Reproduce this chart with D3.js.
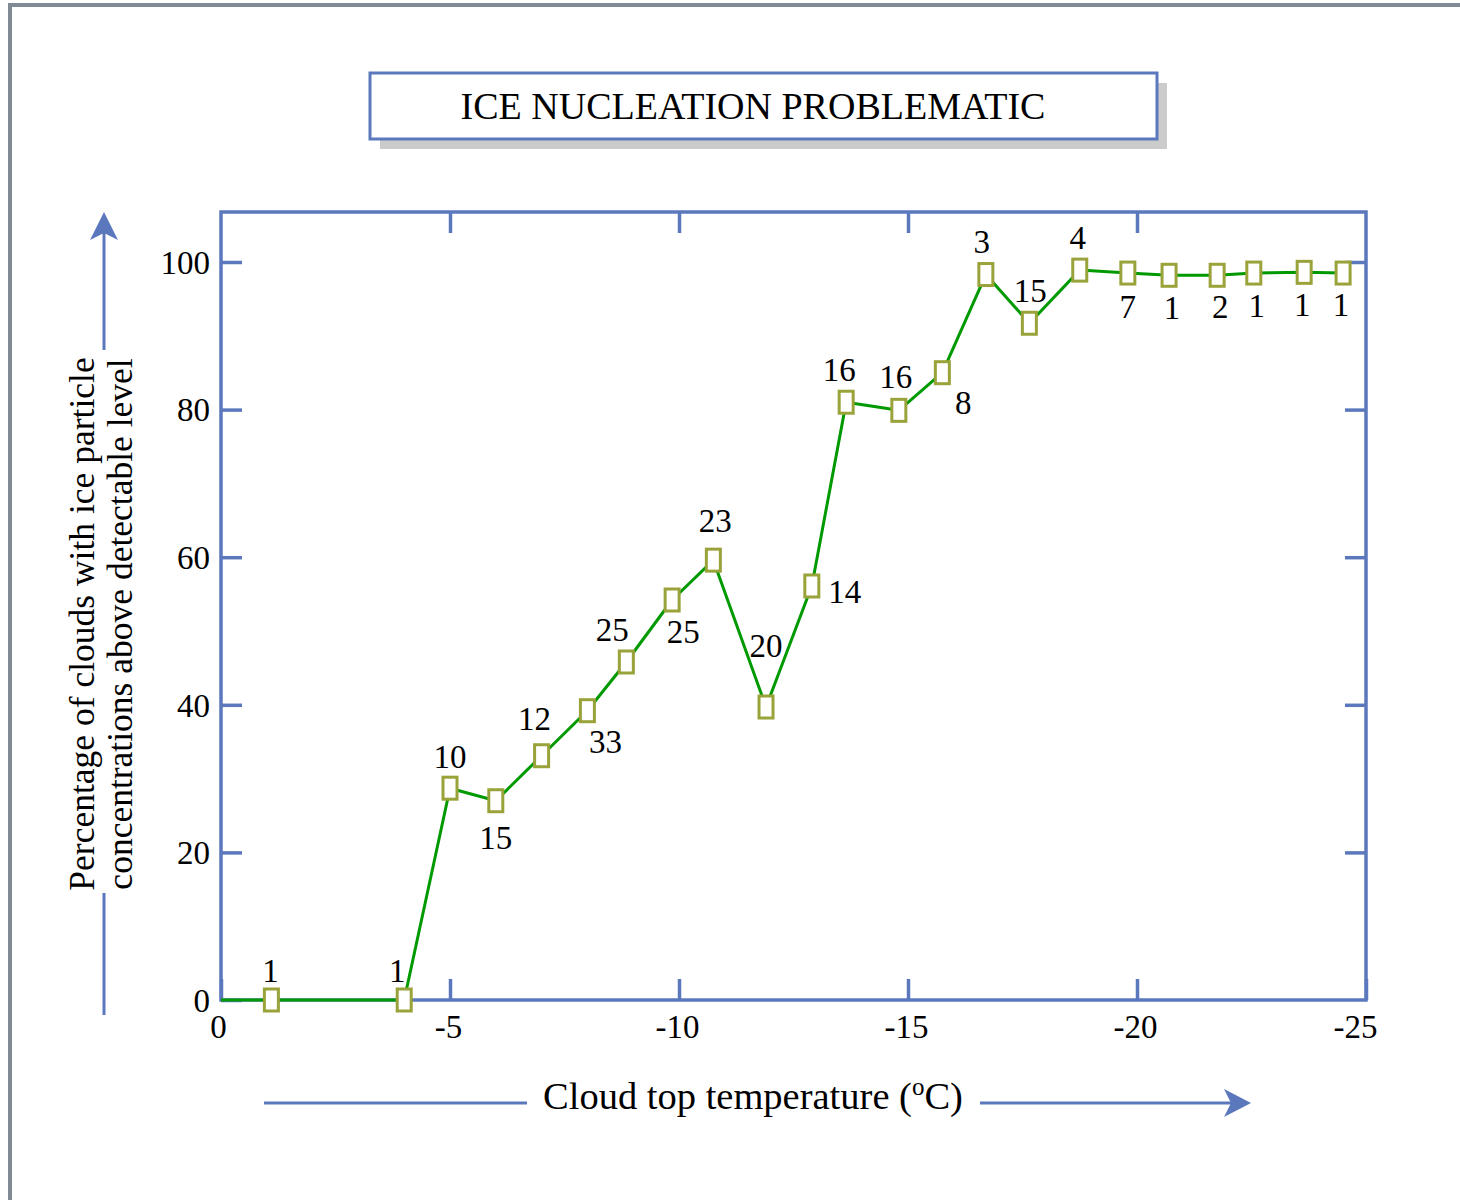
<!DOCTYPE html>
<html>
<head>
<meta charset="utf-8">
<script src="https://cdn.jsdelivr.net/npm/d3@7"></script>
<style>
  html, body { margin: 0; padding: 0; background: #fff; }
  svg { display: block; }
  text { font-family: "Liberation Serif", "Times New Roman", serif; fill: #000; }
</style>
</head>
<body>
<svg id="chart" width="1460" height="1200"></svg>
<script>
// ---------------- data ----------------
const chartTitle = "ICE NUCLEATION PROBLEMATIC";
const xLabel = "Cloud top temperature (";
const yLabelLines = ["Percentage of clouds with ice particle", "concentrations above detectable level"];

// cloud top temperature (°C) of each observation group
const temps = [-1.1, -4.0, -5.0, -6.0, -7.0, -8.0, -8.85, -9.85, -10.75, -11.9, -12.9, -13.65,
               -14.8, -15.75, -16.7, -17.65, -18.75, -19.8, -20.7, -21.75, -22.55, -23.65, -24.5];
// percentage of clouds with ice above detectable level
const pct = [0, 0, 28.7, 27.0, 33.1, 39.2, 45.8, 54.2, 59.6, 39.7, 56.1, 81.0,
             79.9, 85.0, 98.3, 91.7, 98.9, 98.5, 98.2, 98.2, 98.5, 98.6, 98.5];
// number of clouds in each group
const counts = [1, 1, 10, 15, 12, 33, 25, 25, 23, 20, 14, 16, 16, 8, 3, 15, 4, 7, 1, 2, 1, 1, 1];

const xTicks = [0, -5, -10, -15, -20, -25];
const yTicks = [0, 20, 40, 60, 80, 100];
const lineOrigin = [0, 0];   // the curve starts at the origin

// ---------------- layout (kept apart from the data) ----------------
const labelOffsets = [[-1,-18],[-7,-18],[0,-20],[0,48],[-7,-26],[18,42],[-14,-21],[11,43],[2,-28],
  [0,-50],[33,17],[-7,-21],[-3,-22],[21,41],[-4,-22],[1,-21],[-2,-21],[0,45],[3,44],[3,43],[3,44],[-2,44],[-2,43]];

const plot = { left: 221, right: 1366, top: 212, bottom: 1000, y100: 262 };
const BLUE = "#5b78bd", GREEN = "#009a00", OLIVE = "#9aa23a", GREYB = "#7f8a95";

const svg = d3.select("#chart");

const x = d3.scaleLinear().domain([0, -25]).range([plot.left, plot.right]);
const y = d3.scaleLinear().domain([0, 100]).range([plot.bottom, plot.y100]);
const fmt = d => String(d);

// outer page frame (top and left edges)
svg.append("path").attr("d", "M10,1200 L10,5 L1460,5")
  .attr("fill", "none").attr("stroke", GREYB).attr("stroke-width", 4);

// title box with shadow
svg.append("rect").attr("x", 380).attr("y", 83).attr("width", 787).attr("height", 66).attr("fill", "#cbcbcb");
svg.append("rect").attr("x", 370).attr("y", 73).attr("width", 787).attr("height", 66)
  .attr("fill", "#fff").attr("stroke", BLUE).attr("stroke-width", 3);
svg.append("text").attr("x", 753).attr("y", 119).attr("text-anchor", "middle")
  .style("font-size", "38px").text(chartTitle);

// plot frame
svg.append("rect").attr("x", plot.left).attr("y", plot.top)
  .attr("width", plot.right - plot.left).attr("height", plot.bottom - plot.top)
  .attr("fill", "none").attr("stroke", BLUE).attr("stroke-width", 3.5);

const tickLen = 21;
const axisStyle = g => {
  g.select(".domain").remove();
  g.selectAll(".tick line").attr("stroke", BLUE).attr("stroke-width", 3.5);
  g.selectAll(".tick text").style("font-size", "33px").style("font-family", "'Liberation Serif', serif").attr("fill", "#000");
};
svg.append("g").attr("transform", `translate(0,${plot.bottom})`)
  .call(d3.axisBottom(x).tickValues(xTicks).tickSize(-tickLen).tickPadding(8).tickFormat(fmt))
  .call(axisStyle)
  .call(g => g.selectAll(".tick text").attr("dy", "0.92em")
    .attr("dx", d => d === 0 ? "-3" : (d === -25 ? "-11" : "-2")));
svg.append("g").attr("transform", `translate(0,${plot.top})`)
  .call(d3.axisTop(x).tickValues(xTicks.filter(d => d !== 0 && d !== -25)).tickSize(-tickLen).tickFormat(""))
  .call(axisStyle);
svg.append("g").attr("transform", `translate(${plot.left},0)`)
  .call(d3.axisLeft(y).tickValues(yTicks).tickSize(-tickLen).tickPadding(11).tickFormat(fmt))
  .call(axisStyle)
  .call(g => g.selectAll(".tick text").attr("dy", "0.34em"));
svg.append("g").attr("transform", `translate(${plot.right},0)`)
  .call(d3.axisRight(y).tickValues(yTicks.filter(d => d !== 0)).tickSize(-tickLen).tickFormat(""))
  .call(axisStyle);

// data line
const pts = temps.map((t, i) => ({ t, p: pct[i], n: counts[i], off: labelOffsets[i] }));
const lineData = [{ t: lineOrigin[0], p: lineOrigin[1] }].concat(pts);
svg.append("path").datum(lineData)
  .attr("d", d3.line().x(d => x(d.t)).y(d => y(d.p)))
  .attr("fill", "none").attr("stroke", GREEN).attr("stroke-width", 3).attr("stroke-linejoin", "round");

// markers
const mw = 14, mh = 22;
svg.append("g").selectAll("rect").data(pts).join("rect")
  .attr("x", d => x(d.t) - mw / 2).attr("y", d => y(d.p) - mh / 2)
  .attr("width", mw).attr("height", mh)
  .attr("fill", "#fff").attr("stroke", OLIVE).attr("stroke-width", 3);

// count labels
svg.append("g").selectAll("text").data(pts).join("text")
  .attr("x", d => x(d.t) + d.off[0]).attr("y", d => y(d.p) + d.off[1])
  .attr("text-anchor", "middle").style("font-size", "33px")
  .text(d => d.n);

// x axis title with arrow
const xt = svg.append("text").attr("x", 753).attr("y", 1109).attr("text-anchor", "middle").style("font-size", "38.5px");
xt.append("tspan").text(xLabel);
xt.append("tspan").attr("dy", -14).style("font-size", "25px").text("o");
xt.append("tspan").attr("dy", 14).text("C)");
svg.append("line").attr("x1", 264).attr("x2", 527).attr("y1", 1103).attr("y2", 1103).attr("stroke", BLUE).attr("stroke-width", 3);
svg.append("line").attr("x1", 980).attr("x2", 1235).attr("y1", 1103).attr("y2", 1103).attr("stroke", BLUE).attr("stroke-width", 3);
svg.append("path").attr("d", "M1251,1103 L1224,1089 L1231,1103 L1224,1117 Z").attr("fill", BLUE);

// y axis title with arrow
const yt = svg.append("text").attr("transform", "translate(94,624) rotate(-90)").attr("text-anchor", "middle").style("font-size", "35.5px");
yt.append("tspan").attr("x", 0).attr("y", 0).text(yLabelLines[0]);
yt.append("tspan").attr("x", 0).attr("y", 38).text(yLabelLines[1]);
svg.append("line").attr("x1", 104).attr("x2", 104).attr("y1", 893).attr("y2", 1015).attr("stroke", BLUE).attr("stroke-width", 3);
svg.append("line").attr("x1", 104).attr("x2", 104).attr("y1", 230).attr("y2", 350).attr("stroke", BLUE).attr("stroke-width", 3);
svg.append("path").attr("d", "M104,212 L90,240 L104,233 L118,240 Z").attr("fill", BLUE);
</script>
</body>
</html>
